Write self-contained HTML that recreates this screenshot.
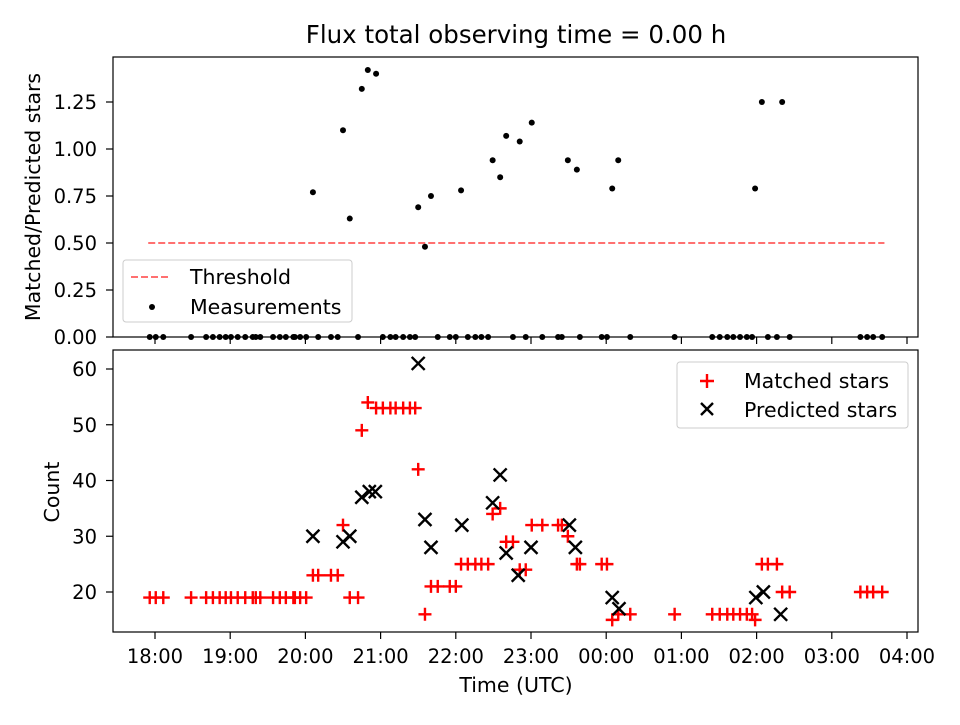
<!DOCTYPE html>
<html><head><meta charset="utf-8"><style>
body{margin:0;background:#fff;}
svg text{font-family:"DejaVu Sans","Liberation Sans",sans-serif;fill:#000;}
</style></head><body>
<svg id="chart" width="960" height="720" xmlns="http://www.w3.org/2000/svg"></svg>
<script>
// hours since 18:00 UTC
const matchedTimes=[-0.07,0.01,0.11,0.48,0.68,0.77,0.86,0.94,1.01,1.10,1.20,1.30,1.34,1.40,1.57,1.66,1.74,1.84,1.86,1.93,2.01,2.10,2.17,2.34,2.43,2.50,2.59,2.70,2.75,2.83,2.94,3.03,3.13,3.20,3.30,3.39,3.46,3.50,3.59,3.67,3.76,3.92,4.00,4.07,4.16,4.26,4.34,4.43,4.49,4.59,4.67,4.76,4.85,4.93,5.01,5.15,5.36,5.41,5.49,5.61,5.65,5.94,6.01,6.08,6.16,6.32,6.91,7.41,7.51,7.61,7.69,7.78,7.87,7.94,7.98,8.07,8.15,8.27,8.34,8.44,9.38,9.47,9.55,9.67];
const matchedValues=[19,19,19,19,19,19,19,19,19,19,19,19,19,19,19,19,19,19,19,19,19,23,23,23,23,32,19,19,49,54,53,53,53,53,53,53,53,42,16,21,21,21,21,25,25,25,25,25,34,35,29,29,24,24,32,32,32,32,30,25,25,25,25,15,16,16,16,16,16,16,16,16,16,16,15,25,25,25,20,20,20,20,20,20];
const ratioValues=[0,0,0,0,0,0,0,0,0,0,0,0,0,0,0,0,0,0,0,0,0,0.77,0,0,0,1.10,0.63,0,1.32,1.42,1.40,0,0,0,0,0,0,0.69,0.48,0.75,0,0,0,0.78,0,0,0,0,0.94,0.85,1.07,0,1.04,0,1.14,0,0,0,0.94,0.89,0,0,0,0.79,0.94,0,0,0,0,0,0,0,0,0,0.79,1.25,0,0,1.25,0,0,0,0,0];
const predictedTimes=[2.10,2.50,2.59,2.75,2.85,2.93,3.50,3.59,3.67,4.08,4.49,4.59,4.67,4.83,5.00,5.51,5.59,6.08,6.17,7.99,8.09,8.32];
const predictedValues=[30,29,30,37,38,38,61,33,28,32,36,41,27,23,28,32,28,19,17,19,20,16];
const xTickLabels=["18:00","19:00","20:00","21:00","22:00","23:00","00:00","01:00","02:00","03:00","04:00"];
const topTicks=[0,0.25,0.5,0.75,1.0,1.25];
const botTicks=[20,30,40,50,60];
const threshold=0.5, thrStart=-0.09, thrEnd=9.7;

const NS="http://www.w3.org/2000/svg";
const svg=document.getElementById('chart');
function mk(tag,attrs,parent){const e=document.createElementNS(NS,tag);for(const k in attrs)e.setAttribute(k,attrs[k]);(parent||svg).appendChild(e);return e;}
const L=113,R=918;
const X=h=>155+(h)*75.2;
const YT=v=>337-v*188;
const YB=v=>592-(v-20)*5.575;
const TF=19.5, LF=20.5, M=6.5, SW=2.4;

let t=mk('text',{x:516,y:43,'font-size':24.5,'text-anchor':'middle'});t.textContent='Flux total observing time = 0.00 h';


const gT=mk('g',{});

const thr=mk('line',{x1:X(thrStart),x2:X(thrEnd),y1:YT(threshold),y2:YT(threshold),stroke:'#ff7070','stroke-width':2,'stroke-dasharray':'7,3'},gT);

matchedTimes.forEach((h,i)=>{const c=mk('circle',{cx:X(h),cy:YT(ratioValues[i]),r:3,fill:'#000'},gT);
});
mk('rect',{x:L,y:57,width:R-L,height:280,fill:'none',stroke:'#000','stroke-width':1.2},gT);
topTicks.forEach(v=>{mk('line',{x1:L-7,x2:L,y1:YT(v),y2:YT(v),stroke:'#000','stroke-width':1.2},gT);
const tx=mk('text',{x:L-16,y:YT(v)+7,'font-size':TF,'text-anchor':'end'},gT);tx.textContent=v.toFixed(2);
});
xTickLabels.forEach((s,i)=>{mk('line',{x1:X(i),x2:X(i),y1:337,y2:344,stroke:'#000','stroke-width':1.2},gT);});
let yl=mk('text',{x:40,y:197,'font-size':LF,'text-anchor':'middle',transform:'rotate(-90 40 197)'},gT);yl.textContent='Matched/Predicted stars';

const lg=mk('g',{},gT);
mk('rect',{x:123,y:260,width:229,height:62,rx:3,fill:'#fff','fill-opacity':0.8,stroke:'#ccc'},lg);
mk('line',{x1:131,x2:170,y1:277,y2:277,stroke:'#ff7070','stroke-width':2,'stroke-dasharray':'7,3'},lg);
let lt=mk('text',{x:190,y:284,'font-size':LF},lg);lt.textContent='Threshold';
mk('circle',{cx:152,cy:307,r:3,fill:'#000'},lg);
lt=mk('text',{x:190,y:314,'font-size':LF},lg);lt.textContent='Measurements';

const gB=mk('g',{});
matchedTimes.forEach((h,i)=>{const x=X(h),y=YB(matchedValues[i]);
const p=mk('path',{d:`M${x-M},${y}H${x+M}M${x},${y-M}V${y+M}`,stroke:'#f00','stroke-width':SW},gB);
});
predictedTimes.forEach((h,i)=>{const x=X(h),y=YB(predictedValues[i]);
const p=mk('path',{d:`M${x-M},${y-M}L${x+M},${y+M}M${x-M},${y+M}L${x+M},${y-M}`,stroke:'#000','stroke-width':SW},gB);
});
mk('rect',{x:L,y:350,width:R-L,height:282,fill:'none',stroke:'#000','stroke-width':1.2},gB);
botTicks.forEach(v=>{mk('line',{x1:L-7,x2:L,y1:YB(v),y2:YB(v),stroke:'#000','stroke-width':1.2},gB);
const tx=mk('text',{x:L-16,y:YB(v)+7,'font-size':TF,'text-anchor':'end'},gB);tx.textContent=v;
});
xTickLabels.forEach((s,i)=>{mk('line',{x1:X(i),x2:X(i),y1:632,y2:639,stroke:'#000','stroke-width':1.2},gB);
const tx=mk('text',{x:X(i),y:663,'font-size':TF,'text-anchor':'middle'},gB);tx.textContent=s;
});
yl=mk('text',{x:59,y:492,'font-size':LF,'text-anchor':'middle',transform:'rotate(-90 59 492)'},gB);yl.textContent='Count';

let xl=mk('text',{x:516,y:692,'font-size':LF,'text-anchor':'middle'},gB);xl.textContent='Time (UTC)';

const lg2=mk('g',{},gB);
mk('rect',{x:677,y:362,width:231,height:66,rx:3,fill:'#fff','fill-opacity':0.8,stroke:'#ccc'},lg2);
mk('path',{d:'M700,381H714M707,374V388',stroke:'#f00','stroke-width':SW},lg2);
lt=mk('text',{x:744,y:388,'font-size':LF},lg2);lt.textContent='Matched stars';
mk('path',{d:'M701,403L713,415M701,415L713,403',stroke:'#000','stroke-width':SW},lg2);
lt=mk('text',{x:744,y:417,'font-size':LF},lg2);lt.textContent='Predicted stars';
</script>
</body></html>
